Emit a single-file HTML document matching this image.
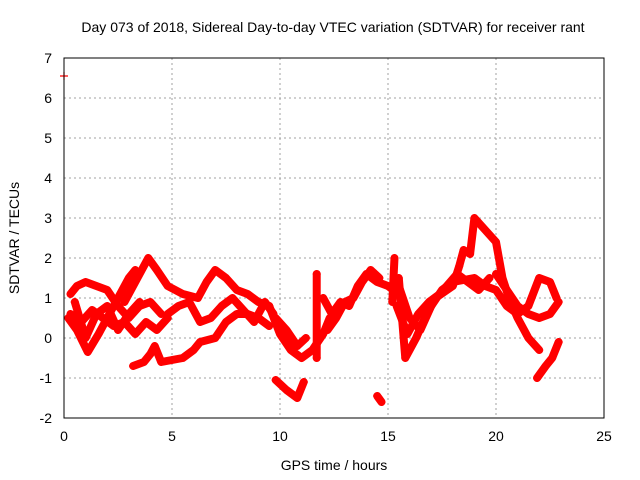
<!DOCTYPE html>
<html><head><meta charset="utf-8"><style>
body{margin:0;background:#fff}
svg{display:block;font-family:"Liberation Sans",sans-serif}
</style></head><body>
<svg id="chart" width="640" height="480" viewBox="0 0 640 480">
<text x="333" y="32" font-size="14" text-anchor="middle">Day 073 of 2018, Sidereal Day-to-day VTEC variation (SDTVAR) for receiver rant</text>
<text x="334" y="470" font-size="14" text-anchor="middle">GPS time / hours</text>
<text transform="translate(19,238) rotate(-90)" font-size="14" text-anchor="middle">SDTVAR / TECUs</text>
<g id="grid"></g><g id="ticks"></g><g id="marks"></g>
<rect x="64" y="58" width="540" height="360" fill="none" stroke="#000" stroke-width="1"/>
</svg>
<script>
const xTicks=[0,5,10,15,20,25];
const yTicks=[-2,-1,0,1,2,3,4,5,6,7];
const tracks=[
 [[0.2,0.5],[0.6,0.2],[1.1,-0.35],[1.6,0.1],[2.0,0.5],[2.5,1.0],[3.0,1.5],[3.3,1.7]],
 [[0.3,1.1],[0.6,1.3],[1.0,1.4],[1.5,1.3],[2.0,1.2],[2.5,0.8],[3.0,0.5],[3.5,0.8],[4.0,0.9],[4.5,0.6]],
 [[0.3,0.6],[0.8,0.4],[1.3,0.7],[1.8,0.5],[2.3,0.3],[2.8,0.4],[3.3,0.1],[3.8,0.4],[4.3,0.2],[4.8,0.5]],
 [[0.5,0.9],[1.0,0.0],[1.5,0.6],[2.0,0.8],[2.5,0.2],[3.0,0.6],[3.5,0.9]],
 [[3.2,-0.7],[3.7,-0.6],[4.0,-0.4],[4.2,-0.2],[4.5,-0.6],[5.0,-0.55],[5.5,-0.5],[6.0,-0.3],[6.3,-0.1],[7.0,0.0],[7.5,0.4],[8.0,0.6],[8.5,0.6],[9.0,0.5],[9.5,0.3]],
 [[2.8,0.9],[3.3,1.4],[3.6,1.7],[3.9,2.0],[4.3,1.7],[4.8,1.3],[5.5,1.1],[6.2,1.0],[6.6,1.4],[7.0,1.7],[7.5,1.5],[8.0,1.2],[8.5,1.1],[9.0,0.9],[9.5,0.8]],
 [[4.8,0.6],[5.3,0.8],[5.8,0.9],[6.3,0.4],[6.8,0.5],[7.3,0.8],[7.8,1.0],[8.3,0.7],[8.8,0.4],[9.3,0.9],[9.7,0.6]],
 [[9.8,-1.05],[10.3,-1.3],[10.8,-1.5],[11.1,-1.1]],
 [[9.5,0.8],[10.0,0.1],[10.5,-0.3],[11.0,-0.5],[11.5,-0.3],[12.0,0.1],[12.3,0.5]],
 [[9.8,0.5],[10.3,0.2],[10.8,-0.2],[11.2,0.0]],
 [[11.7,-0.5],[11.7,1.6]],
 [[12.0,1.0],[12.4,0.6],[12.8,0.9],[13.2,0.8],[13.6,1.3],[14.0,1.6],[14.5,1.4],[15.0,1.3],[15.5,1.1]],
 [[12.2,0.2],[12.6,0.5],[13.0,0.9],[13.4,1.0],[13.8,1.4],[14.2,1.7],[14.6,1.5]],
 [[14.5,-1.45],[14.7,-1.6]],
 [[15.2,0.9],[15.3,2.0]],
 [[15.5,1.5],[15.8,-0.5],[16.3,0.0],[16.7,0.5],[17.2,1.0],[18.0,1.3],[18.3,1.8],[18.5,2.2],[18.8,2.1],[19.0,3.0],[19.5,2.7],[20.0,2.4],[20.3,1.5],[20.6,1.0],[21.0,0.5],[21.5,0.0],[22.0,-0.3]],
 [[15.5,1.3],[16.0,0.5],[16.5,0.2],[17.0,0.8],[17.5,1.2],[18.0,1.4],[19.0,1.5],[19.5,1.3],[20.0,1.2],[20.5,0.8],[21.0,0.6],[21.5,0.8],[22.0,1.5],[22.5,1.4],[22.8,1.0]],
 [[15.4,0.8],[15.9,0.1],[16.4,0.6],[16.9,0.9],[17.4,1.1],[18.2,1.6],[18.7,1.4],[19.2,1.2],[19.7,1.5]],
 [[21.9,-1.0],[22.3,-0.7],[22.6,-0.5],[22.9,-0.1]],
 [[20.0,1.6],[20.5,1.2],[21.0,0.8],[21.5,0.6],[22.0,0.5],[22.5,0.6],[22.9,0.9]],
 [[0.0,6.55]]
];
const ns="http://www.w3.org/2000/svg";
const X=v=>64+v*21.6, Y=v=>418-(v+2)*40;
const grid=document.getElementById('grid'),ticks=document.getElementById('ticks'),marks=document.getElementById('marks');
function mk(tag,attrs,parent){const e=document.createElementNS(ns,tag);for(const k in attrs)e.setAttribute(k,attrs[k]);parent.appendChild(e);return e;}
xTicks.forEach(t=>{
 if(t>0&&t<25){const g=mk('line',{x1:X(t),x2:X(t),y1:58,y2:418,stroke:'#a0a0a0','stroke-dasharray':'2,3'},grid);
 
 }
 const l=mk('text',{x:X(t),y:441,'font-size':14,'text-anchor':'middle'},ticks);l.textContent=t;
 
 
});
yTicks.forEach(t=>{
 if(t>-2&&t<7){const g=mk('line',{x1:64,x2:604,y1:Y(t),y2:Y(t),stroke:'#a0a0a0','stroke-dasharray':'2,3'},grid);
 
 }
 const l=mk('text',{x:52,y:Y(t)+5,'font-size':14,'text-anchor':'end'},ticks);l.textContent=t;
 
 
});
tracks.forEach(tr=>{
 if(tr.length>1){const p=mk('polyline',{points:tr.map(d=>X(d[0])+','+Y(d[1])).join(' '),fill:'none',stroke:'#ff0000','stroke-width':8,'stroke-linejoin':'round','stroke-linecap':'round'},marks);
 
 }
 tr.forEach(d=>{const x=X(d[0]),y=Y(d[1]);
  const m=mk('path',{d:`M${x-4},${y}H${x+4}M${x},${y-4}V${y+4}`,stroke:'#ff0000','stroke-width':1.2},marks);
  
  });
});
</script>
</body></html>
